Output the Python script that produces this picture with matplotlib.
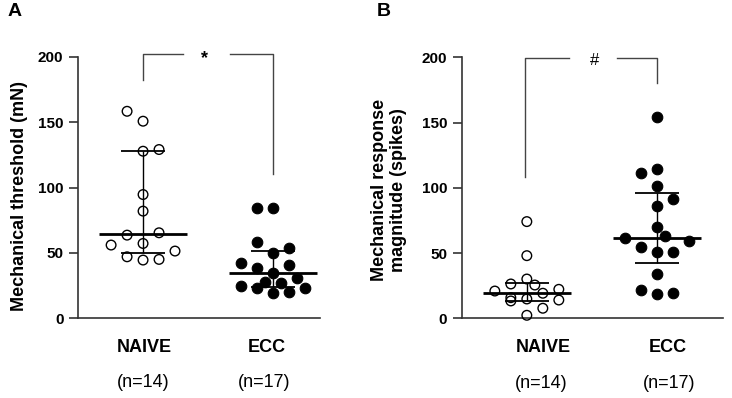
import matplotlib.pyplot as plt
import numpy as np

plt.rcParams['font.family'] = ['Liberation Sans', 'DejaVu Sans']

groups = ['NAIVE', 'ECC']
group_n = ['(n=14)', '(n=17)']

# Panel A: mechanical threshold (mN)
thr_naive = [158.4, 150.8, 127.8, 129.1, 94.6, 81.9, 63.5, 65.3, 55.9, 57.1, 51.3, 46.9, 44.4, 44.9]
thr_ecc = [84.4, 84.4, 58.2, 53.3, 50.0, 41.8, 38.0, 40.6, 34.2, 30.9, 27.8, 26.5, 24.5, 23.2, 23.2, 19.4, 20.2]
thr_median = [64.5, 34.2]
thr_q1 = [49.5, 23.7]
thr_q3 = [128.3, 51.3]

# Panel B: mechanical response magnitude (spikes)
resp_naive = [74.1, 48.0, 30.1, 26.3, 25.5, 22.2, 20.9, 19.2, 15.8, 14.8, 13.3, 14.0, 7.7, 2.3]
resp_ecc = [154.0, 111.2, 114.3, 101.0, 91.8, 86.3, 69.7, 61.8, 63.1, 59.0, 54.4, 51.1, 51.1, 34.0, 21.7, 18.4, 19.2]
resp_median = [19.7, 61.3]
resp_q1 = [13.3, 42.1]
resp_q3 = [27.3, 96.3]

# horizontal scatter slots (in half-marker steps) so points don't overlap
slots_thr_naive = [-2, 0, 0, 2, 0, 0, -2, 2, -4, 0, 4, -2, 0, 2]
slots_thr_ecc = [-2, 0, -2, 2, 0, -4, -2, 2, 0, 3, -1, 1, -4, -2, 4, 0, 2]
slots_resp_naive = [0, 0, 0, -2, 1, 4, -4, 2, -2, 0, -2, 4, 2, 0]
slots_resp_ecc = [0, -2, 0, 0, 2, 0, 0, -4, 1, 4, -2, 0, 2, 0, -2, 0, 2]

SLOT = 0.0614
SPINE = '#333333'


def draw_panel(ax, cols, slots, med, q1, q3, xmax):
    for i in range(2):
        xc = i + 1
        x = xc + np.array(slots[i]) * SLOT
        if i == 0:
            ax.scatter(x, cols[i], s=48, facecolor='none', edgecolor='black',
                       linewidth=1.0, zorder=3, clip_on=False)
        else:
            ax.scatter(x, cols[i], s=58, facecolor='black', edgecolor='black',
                       linewidth=0.8, zorder=3, clip_on=False)
        ax.hlines(med[i], xc - 0.34, xc + 0.34, color='black', lw=2.0, zorder=4)
        ax.hlines([q1[i], q3[i]], xc - 0.17, xc + 0.17, color='black', lw=1.3, zorder=4)
        ax.vlines(xc, q1[i], q3[i], color='black', lw=1.0, zorder=4)

    ax.set_xlim(0.5, xmax)
    ax.set_ylim(0, 200)
    ax.set_yticks([0, 50, 100, 150, 200])
    ax.set_xticks([])
    for s in ['top', 'right']:
        ax.spines[s].set_visible(False)
    for s in ['left', 'bottom']:
        ax.spines[s].set_color(SPINE)
        ax.spines[s].set_linewidth(1.2)
    ax.tick_params(axis='y', direction='out', length=6.5, width=1.2, color=SPINE,
                   labelsize=11, pad=4)
    for lab in ax.get_yticklabels():
        lab.set_fontweight('bold')


fig = plt.figure(figsize=(7.32, 3.98), dpi=100)
axA = fig.add_axes([78 / 732, 1 - 318 / 398, 242 / 732, 261 / 398])
axB = fig.add_axes([461.7 / 732, 1 - 318.3 / 398, 261.3 / 732, 261 / 398])

draw_panel(axA, [thr_naive, thr_ecc], [slots_thr_naive, slots_thr_ecc],
           thr_median, thr_q1, thr_q3, 2.36)
draw_panel(axB, [resp_naive, resp_ecc], [slots_resp_naive, slots_resp_ecc],
           resp_median, resp_q1, resp_q3, 2.506)

# significance brackets
br = dict(color='#444444', lw=1.0, clip_on=False, zorder=2)
axA.plot([1, 1, 1.307], [182.7, 202, 202], **br)
axA.plot([1.665, 2.0, 2.0], [202, 202, 110.5], **br)
axA.text(1.47, 199, '*', ha='center', va='center', fontsize=13, fontweight='bold')
axB.plot([0.985, 0.985, 1.32], [108.6, 199.5, 199.5], **br)
axB.plot([1.69, 2.0, 2.0], [199.5, 199.5, 180.6], **br)
axB.text(1.52, 197.5, '#', ha='center', va='center', fontsize=12)

# group labels under the axes
label_x = {axA: [1.01, 1.955], axB: [1.125, 2.085]}
n_x = {axA: [1.0, 1.93], axB: [1.11, 2.09]}
for ax in (axA, axB):
    tr = ax.get_xaxis_transform()
    for i in range(2):
        ax.text(label_x[ax][i], -0.113, groups[i], transform=tr, ha='center',
                va='center', fontsize=13, fontweight='bold')
        ax.text(n_x[ax][i], -0.248, group_n[i], transform=tr, ha='center',
                va='center', fontsize=13)

fig.text(20 / 732, 1 - 196 / 398, 'Mechanical threshold (mN)', rotation=90,
         ha='center', va='center', fontsize=13, fontweight='bold')
fig.text(389 / 732, 1 - 190 / 398, 'Mechanical response\nmagnitude (spikes)',
         rotation=90, ha='center', va='center', fontsize=13, fontweight='bold',
         multialignment='center', linespacing=1.1)

fig.text(8 / 732, 1 - 12 / 398, 'A', ha='left', va='center', fontsize=14, fontweight='bold')
fig.text(377 / 732, 1 - 12 / 398, 'B', ha='left', va='center', fontsize=14, fontweight='bold')

fig.savefig('out.png', dpi=100)
